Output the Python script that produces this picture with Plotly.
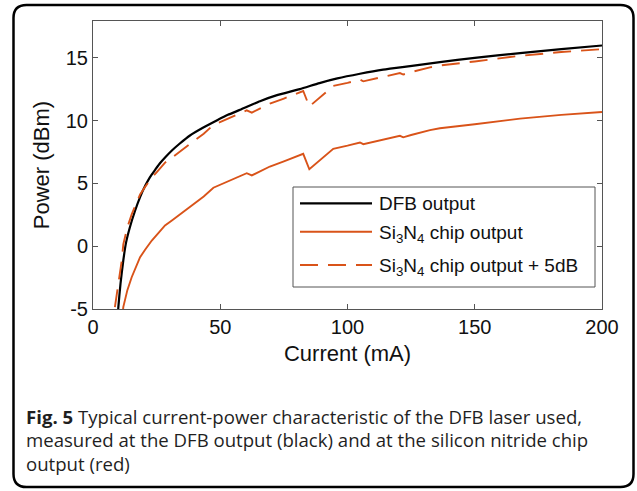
import plotly.graph_objects as go

# ---------------- data ----------------
dfb_current = [9.6, 9.96, 10.8, 11.9, 13, 14.5, 16.5, 18.5, 20.5, 22.4, 24.5, 26.3, 28.5, 30.9,
               34, 38.1, 43, 48.6, 53, 57.8, 65.6, 72, 81.3, 89, 96, 104.9, 114, 124.6, 136.3,
               150, 167.8, 184, 200]
dfb_power = [-6.2, -4.85, -3.0, -1.14, 0.3, 1.51, 2.8, 3.9, 4.8, 5.5, 6.1, 6.6, 7.1, 7.6,
             8.15, 8.81, 9.4, 10.0, 10.45, 10.85, 11.54, 12.0, 12.5, 12.98, 13.35, 13.72, 14.05,
             14.33, 14.64, 14.99, 15.36, 15.68, 15.97]

chip_current = [8.6, 11.3, 11.9, 13.5, 15.2, 18.5, 20.4, 23.1, 25.5, 28.3, 31, 35.5, 40, 43.5,
                47.3, 52.5, 56, 60.4, 62.4, 65.6, 69.5, 75, 79, 82.6, 85, 88.6, 93.1, 94.4, 100,
                104.9, 106.2, 110, 115, 120.6, 121.9, 125, 132.4, 136.3, 150, 167.8, 184, 200]
chip_power = [-9.85, -6.14, -4.85, -3.5, -2.47, -0.88, -0.3, 0.45, 1.0, 1.65, 2.05, 2.71, 3.4,
              3.95, 4.65, 5.09, 5.4, 5.81, 5.63, 5.93, 6.34, 6.75, 7.05, 7.35, 6.12, 6.73, 7.53,
              7.75, 8.0, 8.25, 8.12, 8.3, 8.5, 8.78, 8.66, 8.85, 9.23, 9.38, 9.7, 10.15, 10.45,
              10.68]
offset_db = 5
chip_power_plus = [p + offset_db for p in chip_power]

x_ticks = [0, 50, 100, 150, 200]
y_ticks = [-5, 0, 5, 10, 15]
y_tick_text = ["-5", "0", "5", "10", "15"]

caption_lines = [
    "<b>Fig. 5</b> Typical current-power characteristic of the DFB laser used,",
    "measured at the DFB output (black) and at the silicon nitride chip",
    "output (red)",
]

RED = "#D95319"
DASH = "18px,10px"

# ---------------- layout helpers (pixel -> paper) ----------------
W, H = 637, 491
L, R, T, B = 93, 602, 21, 309


def px(x):
    return (x - L) / (R - L)


def py(y):
    return (B - y) / (B - T)


fig = go.Figure()
fig.add_trace(go.Scatter(x=dfb_current, y=dfb_power, mode="lines", name="DFB output",
                         line=dict(color="black", width=2.2, shape="spline", smoothing=0.5)))
fig.add_trace(go.Scatter(x=chip_current, y=chip_power, mode="lines", name="Si3N4 chip output",
                         line=dict(color=RED, width=1.9)))
fig.add_trace(go.Scatter(x=chip_current, y=chip_power_plus, mode="lines",
                         name="Si3N4 chip output + 5dB",
                         line=dict(color=RED, width=1.9, dash=DASH)))

axis_common = dict(showline=True, linecolor="#555555", linewidth=1, mirror="ticks",
                   ticks="inside", ticklen=5, tickcolor="#555555", tickwidth=1,
                   showgrid=False, zeroline=False,
                   tickfont=dict(family="Liberation Sans, Arial", size=20, color="#111111"))

fig.update_xaxes(range=[0, 200], tickvals=x_ticks, **axis_common,
                 title=dict(text="Current (mA)", standoff=8,
                            font=dict(family="Liberation Sans, Arial", size=22, color="#111111")))
fig.update_yaxes(range=[-5, 17.92], tickvals=y_ticks, ticktext=y_tick_text, **axis_common,
                 title=dict(text="Power (dBm)", standoff=10,
                            font=dict(family="Liberation Sans, Arial", size=22, color="#111111")))

shapes = []
# outer rounded frame
x0, y0, x1, y1, r = 13.5, 5, 633.5, 487, 13


def P(x, y):
    return f"{px(x):.5f},{py(y):.5f}"


path = (f"M {P(x0 + r, y0)} L {P(x1 - r, y0)} Q {P(x1, y0)} {P(x1, y0 + r)} "
        f"L {P(x1, y1 - r)} Q {P(x1, y1)} {P(x1 - r, y1)} L {P(x0 + r, y1)} "
        f"Q {P(x0, y1)} {P(x0, y1 - r)} L {P(x0, y0 + r)} Q {P(x0, y0)} {P(x0 + r, y0)} Z")
shapes.append(dict(type="path", path=path, xref="paper", yref="paper",
                   line=dict(color="black", width=2.5)))

# legend box
shapes.append(dict(type="rect", xref="paper", yref="paper", x0=px(293), x1=px(595),
                   y0=py(287), y1=py(187), fillcolor="white", line=dict(color="#555555", width=1)))
legend_rows = [(203.3, "black", 2.2, "solid", "DFB output"),
               (231.7, RED, 1.9, "solid", "Si<sub>3</sub>N<sub>4</sub> chip output"),
               (265.0, RED, 1.9, DASH, "Si<sub>3</sub>N<sub>4</sub> chip output + 5dB")]
annotations = []
for yy, col, lw, dash, label in legend_rows:
    shapes.append(dict(type="line", xref="paper", yref="paper", x0=px(300), x1=px(372),
                       y0=py(yy), y1=py(yy), line=dict(color=col, width=lw, dash=dash)))
    annotations.append(dict(text=label, xref="paper", yref="paper", x=px(377), y=py(yy - 12),
                            xanchor="left", yanchor="top", showarrow=False,
                            font=dict(family="Liberation Sans, Arial", size=19, color="#111111")))

for i, line in enumerate(caption_lines):
    annotations.append(dict(text=line, xref="paper", yref="paper", x=px(24),
                            y=py(416 + 23.5 * i), xanchor="left", yanchor="middle",
                            align="left", showarrow=False,
                            font=dict(family="Open Sans", size=18.6, color="#1f1f1f")))

fig.update_layout(width=W, height=H, margin=dict(l=L, r=W - R, t=T, b=H - B),
                  paper_bgcolor="white", plot_bgcolor="white", showlegend=False,
                  shapes=shapes, annotations=annotations)

fig.write_html("out.html")
